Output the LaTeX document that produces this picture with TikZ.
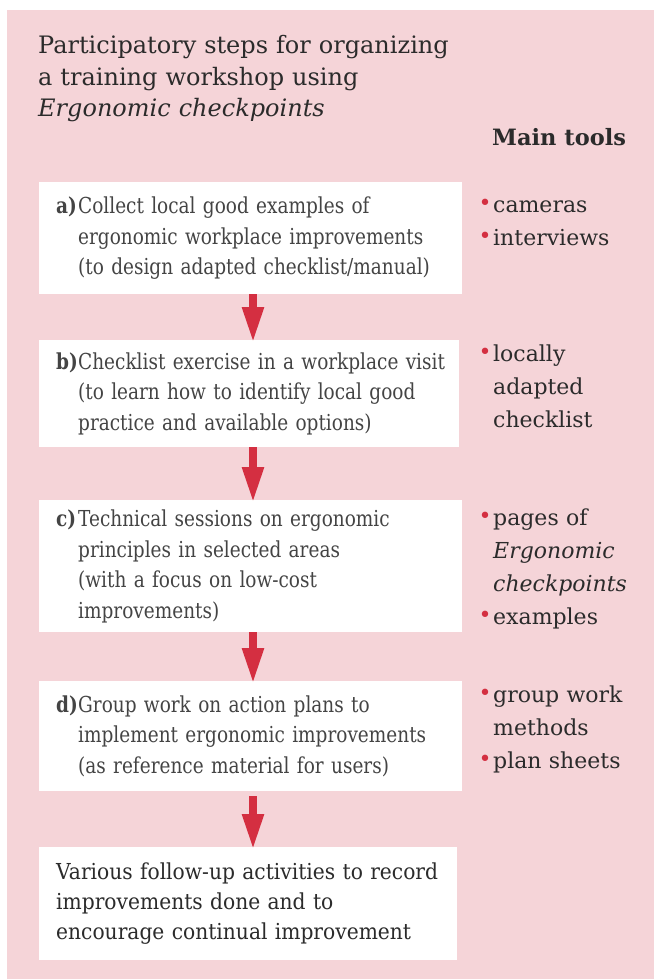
\documentclass[tikz,border=0pt]{standalone}
\usepackage{fontspec}
\setmainfont{DejaVu Serif}
\newfontfamily\bodyfont[FakeStretch=0.84]{DejaVu Serif}
\newfontfamily\lastfont[FakeStretch=0.92]{DejaVu Serif}
\usetikzlibrary{arrows.meta}
\definecolor{bgpink}{HTML}{F5D4D8}
\definecolor{tred}{HTML}{D42F41}
\definecolor{tdark}{HTML}{2B2B2B}
\definecolor{tbody}{HTML}{444444}
\newcommand{\stepitem}[2]{\makebox[22pt][l]{\bfseries #1}\parbox[t]{420pt}{#2}}
\newcommand{\tb}{\leavevmode\llap{\textcolor{tred}{\raisebox{1.5pt}{\fontsize{22}{22}\selectfont •}}\hspace{1.5pt}}}
\tikzset{
  stepbox/.style={fill=white, draw=none, anchor=north west, inner xsep=17pt, inner ysep=0pt,
    align=left, font=\bodyfont\fontsize{22}{30.5}\selectfont, text=tbody},
  toolbox/.style={anchor=base west, inner sep=0pt, text width=160pt, align=left,
    font=\fontsize{22}{33}\selectfont, text=tdark},
  redarrow/.style={draw=tred, line width=8pt, -{Triangle[width=20pt,length=36pt]}, shorten >=-3pt}
}
\begin{document}
\begin{tikzpicture}[x=1pt,y=-1pt]
\useasboundingbox (0,0) rectangle (654,979);
\fill[bgpink] (7,10) rectangle (654,979);
\coordinate (axis) at (253,0);

\node (title) [anchor=base west, inner sep=0pt, text width=470pt, align=left,
  font=\fontsize{24}{31.5}\selectfont, text=tdark] at (38,54)
  {Participatory steps for organizing\\a training workshop using\\\textit{Ergonomic checkpoints}};
\node (maintools) [anchor=base west, inner sep=0pt, font=\bfseries\fontsize{22.5}{27}\selectfont, text=tdark]
  at (492,145) {Main tools};

\node (a) [stepbox, minimum width=423pt, minimum height=112pt, text width=389pt] at (39,182)
  {\stepitem{a)}{Collect local good examples of\\ergonomic workplace improvements\\(to design adapted checklist/manual)}};
\node (b) [stepbox, minimum width=420pt, minimum height=107pt, text width=386pt] at (39,340)
  {\stepitem{b)}{Checklist exercise in a workplace visit\\(to learn how to identify local good\\practice and available options)}};
\node (c) [stepbox, minimum width=423pt, minimum height=132pt, text width=389pt] at (39,500)
  {\stepitem{c)}{Technical sessions on ergonomic\\principles in selected areas\\(with a focus on low-cost\\improvements)}};
\node (d) [stepbox, minimum width=423pt, minimum height=110pt, text width=389pt] at (39,681)
  {\stepitem{d)}{Group work on action plans to\\implement ergonomic improvements\\(as reference material for users)}};
\node (e) [stepbox, minimum width=418pt, minimum height=113pt, text width=384pt,
  font=\lastfont\fontsize{22}{30}\selectfont, text=tdark] at (39,847)
  {Various follow-up activities to record\\improvements done and to\\encourage continual improvement};

\draw[redarrow] (a.south -| axis) -- (b.north -| axis);
\draw[redarrow] (b.south -| axis) -- (c.north -| axis);
\draw[redarrow] (c.south -| axis) -- (d.north -| axis);
\draw[redarrow, shorten <=5pt] (d.south -| axis) -- (e.north -| axis);

\node (ta) [toolbox] at (493,212) {\tb cameras\\\tb interviews};
\node (tbb) [toolbox] at (493,361) {\tb locally\\adapted\\checklist};
\node (tc) [toolbox] at (493,525) {\tb pages of\\\textit{Ergonomic}\\\textit{checkpoints}\\\tb examples};
\node (td) [toolbox] at (493,702) {\tb group work\\methods\\\tb plan sheets};
\end{tikzpicture}
\end{document}
